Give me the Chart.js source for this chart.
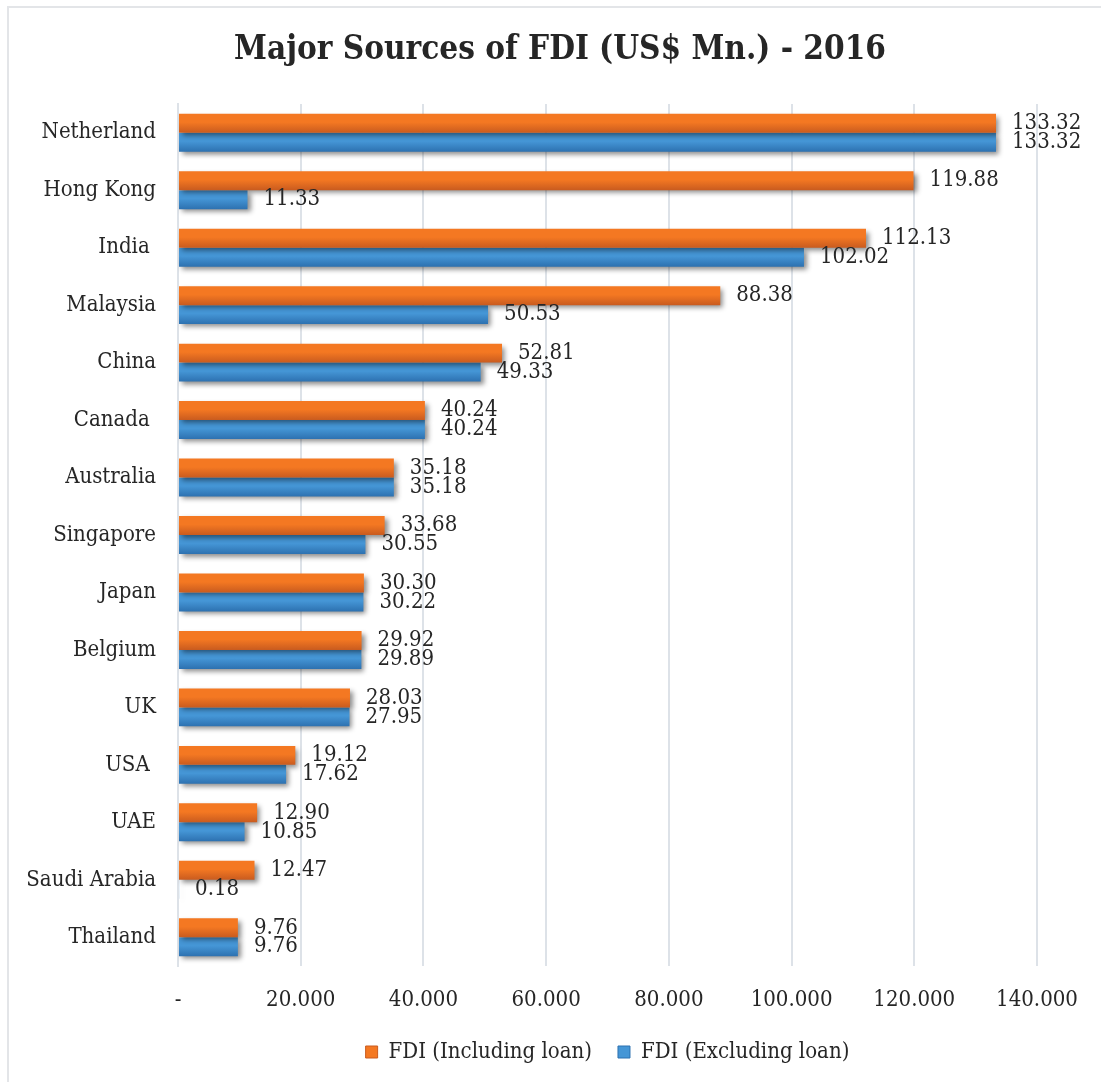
<!DOCTYPE html>
<html>
<head>
<meta charset="utf-8">
<script src="https://cdn.jsdelivr.net/npm/chart.js@4"></script>
<style>
  html, body { margin: 0; padding: 0; background: #fff; }
  #wrap { width: 1101px; height: 1082px; position: relative; }
</style>
</head>
<body>
<div id="wrap"><canvas id="fdi"></canvas></div>
<script>
// FDI sources, 2016 (US$ Mn.)
const chartTitle = 'Major Sources of FDI (US$ Mn.) - 2016';
const countries = ['Netherland', 'Hong Kong', 'India ', 'Malaysia', 'China', 'Canada ', 'Australia',
  'Singapore', 'Japan', 'Belgium', 'UK', 'USA ', 'UAE', 'Saudi Arabia', 'Thailand'];
const includingLoan = [133.32, 119.88, 112.13, 88.38, 52.81, 40.24, 35.18, 33.68, 30.30, 29.92, 28.03, 19.12, 12.90, 12.47, 9.76];
const excludingLoan = [133.32, 11.33, 102.02, 50.53, 49.33, 40.24, 35.18, 30.55, 30.22, 29.89, 27.95, 17.62, 10.85, 0.18, 9.76];
const xTicks = [0, 20, 40, 60, 80, 100, 120, 140];

const SERIF = "'DejaVu Serif Condensed', 'DejaVu Serif', serif";
const TEXT = '#262626';

const CAT_PCT = 0.66;
const BAR_PCT = 1.0;

// vertical gradient for one bar, based on its slot in the category band
function barGradient(ctx, top, bottom) {
  const { chart, dataIndex, datasetIndex } = ctx;
  const y = chart.scales.y;
  if (!y || dataIndex === undefined) return top;
  const band = (y.bottom - y.top) / countries.length * CAT_PCT * BAR_PCT / 2;
  const c = y.getPixelForValue(dataIndex);
  const y0 = datasetIndex === 0 ? c - band : c;
  const g = chart.ctx.createLinearGradient(0, y0, 0, y0 + band);
  g.addColorStop(0, top);
  g.addColorStop(0.45, top);
  g.addColorStop(1, bottom);
  return g;
}

// soft drop shadow under the bars
const barShadow = {
  id: 'barShadow',
  beforeDatasetsDraw(chart) {
    const c = chart.ctx;
    c.save();
    c.shadowColor = 'rgba(0,0,0,0.45)';
    c.shadowBlur = 5;
    c.shadowOffsetX = 3;
    c.shadowOffsetY = 3;
  },
  afterDatasetsDraw(chart) {
    chart.ctx.restore();
  }
};

// value labels just past the end of each bar
const valueLabels = {
  id: 'valueLabels',
  afterDatasetsDraw(chart) {
    const c = chart.ctx;
    c.save();
    c.font = "22px " + SERIF;
    c.fillStyle = TEXT;
    c.textAlign = 'left';
    c.textBaseline = 'middle';
    chart.data.datasets.forEach((ds, di) => {
      const meta = chart.getDatasetMeta(di);
      meta.data.forEach((bar, i) => {
        const v = ds.data[i];
        c.fillText(v.toFixed(2), bar.x + 16, bar.y);
      });
    });
    c.restore();
  }
};

// thin frame along the top and left edges, plus the heading
const frameAndTitle = {
  id: 'frameAndTitle',
  beforeDraw(chart) {
    const c = chart.ctx;
    c.save();
    c.strokeStyle = '#E3E5E8';
    c.lineWidth = 2;
    c.beginPath();
    c.moveTo(8, chart.height + 2);
    c.lineTo(8, 7);
    c.lineTo(chart.width + 2, 7);
    c.stroke();
    c.font = "bold 33px " + SERIF;
    c.fillStyle = TEXT;
    c.textAlign = 'center';
    c.textBaseline = 'middle';
    c.fillText(chartTitle, 560, 50);
    c.restore();
  }
};

new Chart(document.getElementById('fdi'), {
  type: 'bar',
  data: {
    labels: countries,
    datasets: [
      {
        label: 'FDI (Including loan)',
        data: includingLoan,
        backgroundColor: ctx => barGradient(ctx, '#F47822', '#C95B1F'),
        borderWidth: 0,
        categoryPercentage: CAT_PCT,
        barPercentage: BAR_PCT
      },
      {
        label: 'FDI (Excluding loan)',
        data: excludingLoan,
        backgroundColor: ctx => barGradient(ctx, '#4596D6', '#2D71B0'),
        borderWidth: 0,
        categoryPercentage: CAT_PCT,
        barPercentage: BAR_PCT
      }
    ]
  },
  options: {
    indexAxis: 'y',
    responsive: true,
    maintainAspectRatio: false,
    animation: false,
    layout: { padding: { left: 0, right: 64, top: 104, bottom: 9 } },
    plugins: {
      title: { display: false },
      legend: {
        display: true,
        position: 'bottom',
        fullSize: false,
        labels: {
          color: TEXT,
          font: { family: SERIF, size: 22 },
          boxWidth: 12,
          boxHeight: 12,
          padding: 26,
          generateLabels(chart) {
            const fills = [['#F47822', '#C95B1F'], ['#4596D6', '#2D71B0']];
            return chart.data.datasets.map((ds, i) => ({
              text: ds.label,
              fillStyle: fills[i][0],
              strokeStyle: fills[i][1],
              lineWidth: 1,
              fontColor: TEXT,
              hidden: false,
              datasetIndex: i
            }));
          }
        }
      },
      tooltip: { enabled: false }
    },
    scales: {
      x: {
        min: 0,
        max: 140,
        afterBuildTicks(scale) { scale.ticks = xTicks.map(v => ({ value: v })); },
        afterFit(scale) { scale.height = 49; },
        grid: { color: '#DDE2E8', lineWidth: 2, drawTicks: false },
        border: { display: false },
        ticks: {
          color: TEXT,
          padding: 21,
          font: { family: SERIF, size: 22 },
          callback: v => v === 0 ? '-' : v.toFixed(3)
        }
      },
      y: {
        afterFit(scale) { scale.width = 178; },
        grid: { display: false, drawTicks: false },
        border: { display: true, color: '#DDE2E8', width: 2 },
        ticks: {
          color: TEXT,
          padding: 22,
          font: { family: SERIF, size: 22 }
        }
      }
    }
  },
  plugins: [frameAndTitle, barShadow, valueLabels]
});
</script>
</body>
</html>
